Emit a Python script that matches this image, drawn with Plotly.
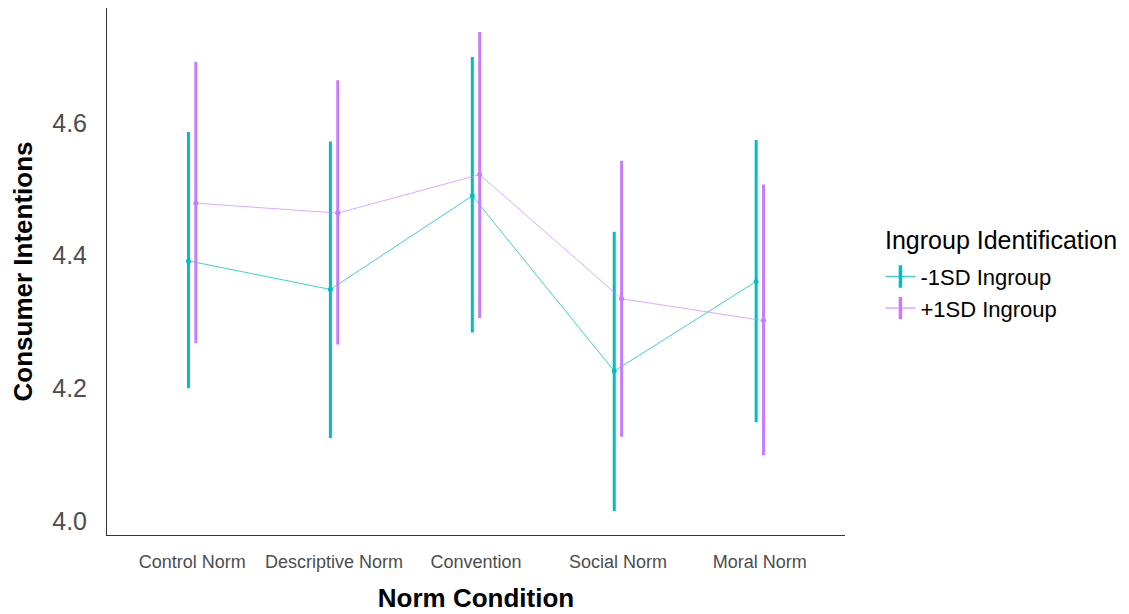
import plotly.graph_objects as go

# Norm conditions on the x axis
conditions = ["Control Norm", "Descriptive Norm", "Convention", "Social Norm", "Moral Norm"]

# Estimated means and confidence limits of consumer intentions
low_mean = [4.392, 4.349, 4.490, 4.226, 4.361]
low_upper = [4.586, 4.572, 4.699, 4.436, 4.574]
low_lower = [4.200, 4.125, 4.284, 4.015, 4.149]

high_mean = [4.479, 4.464, 4.522, 4.335, 4.302]
high_upper = [4.692, 4.664, 4.737, 4.543, 4.507]
high_lower = [4.268, 4.266, 4.306, 4.127, 4.099]

group_names = ["-1SD Ingroup", "+1SD Ingroup"]
group_colors = ["#00BFC4", "#C77CFF"]
group_line_colors = ["rgba(0,191,196,0.75)", "rgba(199,124,255,0.65)"]

y_ticks = [4.0, 4.2, 4.4, 4.6]
dodge = 0.026

fig = go.Figure()

series = [
    (low_mean, low_upper, low_lower),
    (high_mean, high_upper, high_lower),
]

for gi, (mean, upper, lower) in enumerate(series):
    offset = -dodge if gi == 0 else dodge
    xs = [i + offset for i in range(len(conditions))]
    fig.add_trace(go.Scatter(
        x=xs,
        y=mean,
        mode="lines+markers",
        line=dict(color=group_line_colors[gi], width=1),
        marker=dict(color=group_colors[gi], size=5),
        error_y=dict(
            type="data",
            symmetric=False,
            array=[u - m for u, m in zip(upper, mean)],
            arrayminus=[m - l for m, l in zip(mean, lower)],
            color=group_colors[gi],
            thickness=3,
            width=0,
        ),
        showlegend=False,
        hoverinfo="skip",
    ))

# Legend keys: a thin line crossed by a vertical range bar
for gi, name in enumerate(group_names):
    fig.add_trace(go.Scatter(
        x=[None],
        y=[None],
        mode="lines+markers",
        name=name,
        line=dict(color=group_line_colors[gi], width=1.5),
        marker=dict(symbol="line-ns", size=20,
                    line=dict(color=group_colors[gi], width=3.5)),
    ))

fig.update_layout(
    width=1129,
    height=614,
    margin=dict(l=107, r=284, t=8, b=79),
    plot_bgcolor="white",
    paper_bgcolor="white",
    font=dict(family="Liberation Sans, Arial, sans-serif"),
    xaxis=dict(
        range=[-0.6, 4.6],
        tickmode="array",
        tickvals=list(range(len(conditions))),
        ticktext=conditions,
        tickfont=dict(size=18, color="#4D4D4D"),
        showgrid=False,
        zeroline=False,
        showline=True,
        linecolor="#333333",
        linewidth=1,
        ticks="",
        ticklabelstandoff=10,
        automargin=False,
        title=dict(text="<b>Norm Condition</b>",
                   font=dict(size=26, color="black"), standoff=18),
    ),
    yaxis=dict(
        range=[3.979, 4.773],
        tickmode="array",
        tickvals=y_ticks,
        ticktext=[f"{v:.1f}" for v in y_ticks],
        tickfont=dict(size=25, color="#4D4D4D"),
        showgrid=False,
        zeroline=False,
        showline=True,
        linecolor="#333333",
        linewidth=1,
        ticks="",
        ticklabelstandoff=14,
        automargin=False,
        title=dict(text="<b>Consumer Intentions</b>",
                   font=dict(size=26, color="black"), standoff=12),
    ),
    legend=dict(
        font=dict(size=22, color="black"),
        x=1.048,
        xanchor="left",
        y=0.530,
        yanchor="top",
        bgcolor="rgba(0,0,0,0)",
        itemwidth=30,
        tracegroupgap=0,
    ),
    annotations=[dict(
        text="Ingroup Identification",
        xref="paper", yref="paper",
        x=1.051, y=0.56,
        xanchor="left", yanchor="middle",
        showarrow=False,
        font=dict(size=25, color="black"),
    )],
)

fig.write_html("out.html")
